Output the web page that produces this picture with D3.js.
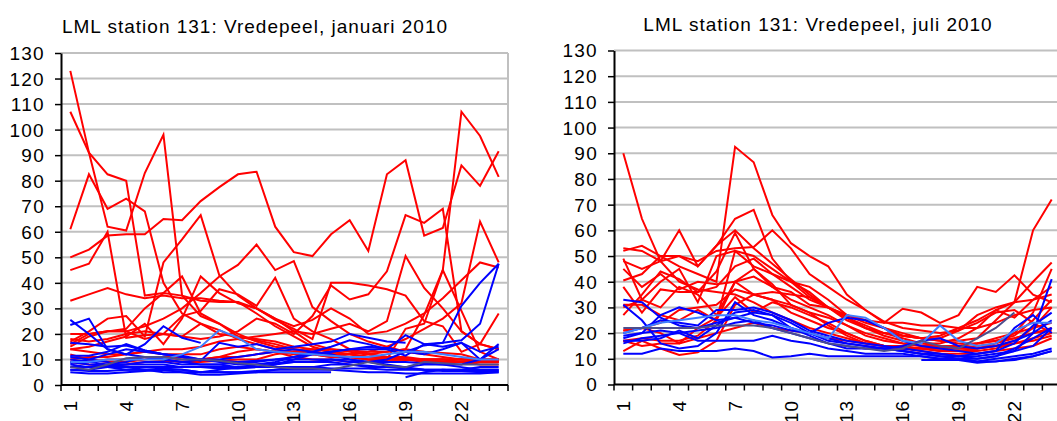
<!DOCTYPE html>
<html>
<head>
<meta charset="utf-8">
<script src="https://cdn.jsdelivr.net/npm/d3@7"></script>
<style>
  body { margin: 0; background: #fff; overflow: hidden; }
  svg text { font-family: "Liberation Sans", Arial, sans-serif; fill: #000; }
</style>
</head>
<body>
<svg id="chart"></svg>
<script>
// uren van de dag (categorieen)
const hours = d3.range(1, 25);
const hourLabels = [1, 4, 7, 10, 13, 16, 19, 22];
const yTicks = d3.range(0, 131, 10);

// januari 2010 - rode dagen
const janRed = [
  [123, 91, 62, 60.5, 83, 98, 35, 27, 24, 20, 17, 15, 14, 13, 12, 11, 10, 10, 10, 9, 9, 9, 8, 8],
  [107, 91, 82.5, 80, 35, 36, 35, 33, 32.5, 32.5, 28, 23, 19, 15, 13, 12, 11, 10, 10, 10, 10, 9, 9, 9],
  [61, 82.5, 69, 73, 68, 40, 28, 24, 20, 19, 17.5, 16, 14, 13, 12, 11, 10, 10, 10, 10, 9, 9, 9, 9],
  [50, 53, 58.5, 59, 59, 65, 64.5, 72, 77.5, 82.5, 83.5, 62, 52, 50.5, 59, 64.5, 52.5, 82.5, 88, 58.5, 61.5, 86, 78, 91.5],
  [45, 47.5, 60, 18.5, 19.5, 20, 19, 24, 21.5, 18, 16, 14, 13, 12, 11, 11, 10, 10, 10, 9.5, 9, 9, 9, 9],
  [33, 35.5, 38, 35.5, 34, 35, 34, 34, 33, 32.5, 30, 26, 23, 25.5, 30, 26, 20, 21, 24, 28, 34, 41, 48, 46],
  [15, 19, 21, 22, 30, 36, 42.5, 28, 24, 19, 18, 17, 15, 14, 13, 12, 11, 11, 10, 10, 10, 10, 10, 10],
  [16, 20, 21, 21, 23, 26, 30, 36, 42.5, 47, 55, 45, 48.5, 30.5, 25, 20, 17, 15, 13, 12, 11, 10, 10, 10],
  [17, 21, 26, 27, 19, 48, 57, 66.5, 43, 35, 30, 26, 21, 16, 14, 13, 12, 11, 10, 10, 10, 10, 9.5, 9.5],
  [20, 20, 21, 21, 18, 20, 27, 29, 37.5, 35.5, 31, 42, 26, 21, 18, 14, 12, 11, 11, 10, 10, 10, 10, 10],
  [14, 15, 17, 19, 24, 16, 26, 42.5, 36, 32, 30, 25.5, 22, 18, 40, 40, 39, 37.5, 35, 25, 23, 13, 16, 14],
  [9, 8, 7.5, 8, 9, 9.5, 9, 9, 9.5, 10, 10, 12, 13, 14, 14, 13.5, 13, 13, 14, 13, 12.5, 12, 10, 9.5],
  [12, 10, 9, 9, 10, 11, 11, 10, 11, 13, 14, 13, 11, 10, 10, 9, 9, 10, 22, 24, 45, 107, 97.5, 81.5],
  [18, 17, 18, 20, 21, 20, 19, 18, 19, 21, 26, 24, 20, 27, 39, 33.5, 35.5, 44.5, 66.5, 63.5, 69, 21, 16, 14],
  [14, 13, 12, 12, 13, 14, 14, 15, 17, 18, 19, 20, 21, 20, 22, 24, 21, 25, 50.5, 38, 30, 21, 16, 28],
  [10, 11, 11, 12, 13, 12, 12, 12, 14, 15, 14, 13, 12, 12, 11, 11, 12, 13, 14, 27.5, 45, 29, 13, 10],
  [9, 9, 10, 10, 11, 11, 10, 10, 11, 11, 12, 13, 13, 13, 12, 12, 13, 15, 18, 22, 26, 32, 64, 48]
];

// januari 2010 - blauwe dagen
const janBlue = [
  [25.5, 20, 14, 12, 11, 10, 9, 8, 8, 7, 7, 7, 7, 7, 6.5, 6.5, 6.5, 6, 6, 6, 6, 6, 6, 6],
  [23.5, 26, 14, 12, 16, 23, 18.5, 16.5, null, null, null, null, null, null, null, null, null, null, null, null, null, null, null, null],
  [16.5, 16, 15, 15.5, 13.5, 12, 11.5, 10, 9.5, 9, 9.5, 10, 11, 12, 13, 14, 15, 14.5, 13, 12, 14, 16.5, 13, 15],
  [11.5, 11.5, 13, 16, 13.5, 12, 11, 9.5, 16.5, 15, 16, 14, 15, 16, 17, 20, 18.5, 17, 16.5, null, null, null, null, null],
  [8, 7, 7, 6, 6, 6.5, 6, 5, 5, 5, 5, 5, 5, 5, 5, null, null, null, null, null, null, null, null, null],
  [null, null, null, null, null, null, null, null, null, null, null, null, null, null, null, null, null, null, 3, 5, 6, 5.5, 5, 5],
  [10, 9, 8, 9, 11, 10, 9, 10, 9, 8, 8, 9, 11, 13, 15, 17.5, 16, 14, 19.5, 16, 15, 16.5, 10, 16],
  [6, 6, 7, 7, 7, 7, 7, 7, 7, 7, 7, 8, 10, 12, 13, 14, 14, 14, 11.5, 16, 16.5, 31, 40, 47.5],
  [7, 7, 8, 8, 9, 9, 8, 8, 8, 9, 9, 10, 10, 10, 10, 9, 9, 10, 13, 15.5, 16.5, 17.5, 24, 47.5],
  [6, 5.5, 5.5, 6, 6, 6, 6, 5, 5, 5, 5.5, 6, 6, 6, 6, 5.5, 5, 5, 4.5, 4.5, 4.5, 4.5, 4.5, 5],
  [9, 8, 7.5, 8, 8, 8, 7, 7, 6.5, 6.5, 7, 8, 9, 9, 9, 8, 7, 7, 7, 8, 8, 7, 6, 6],
  [5, 4.5, 4.5, 5, 5.5, 6, 5, 5, 6, 7, 8, 8.5, 9, 9, 10, 10, 9, 8, 7, 6, 5.5, 5.5, 5.5, 5.5],
  [11, 10, 9, 7, 6, 5, 5, 4, 4, 4.5, 5, 6, 7, 7, 8, 8, 7.5, 7, 6.5, 6, 6, 6, 7, 7],
  [8.5, 10, 12, 14, 13, 12, 11, 10, 10, 11, 12, 13, 14, 13, 12, 10, 9, 9, 9, 8.5, 8, 8, 10, 14]
];
const janLightBlue = [9, 9, 10, 10, 10, 10, 12, 15, 21.5, 18.5, 14, 13, 12.5, 12, 11.5, 11, 11, 12, 13, 13, 12, 11, 10, 10];
const janSlate = [7, 6, 8, 10.5, 11, 11, 10, 10, 9.5, 8.5, 8, 7, 6.5, 6.5, 6, 7.5, 9, 7.5, 7, 9, 8.5, 8, 8, 8];

// juli 2010 - rode dagen
const julRed = [
  [90, 64.5, 48, 40, 37, 36, 35, 32, 28, 25, 22, 20, 18, 16, 15, 14, 14, 13, 13, 14, 16, 20, 28, 45],
  [52, 54, 50, 46, 43, 40, 92.5, 86.5, 66, 55, 50, 46, 35, 29, 24.5, 22, 21, 20, 21, 24, 28, 29, 24, 20],
  [48, 45, 48, 50, 46, 54, 64.5, 68, 49, 40, 36, 30, 26, 22, 20, 18, 16, 15, 14, 14, 15, 17, 22, 30],
  [53, 52, 48, 60, 46, 54, 60, 53, 47, 41, 35, 30, 27, 24, 22, 20, 18, 17, 16, 16, 17, 19, 25, 33],
  [40.5, 43, 50, 50, 48, 52, 53, 53.5, 60, 53, 43, 38, 33, 29, 24, 29.5, 28, 24, 27, 38, 36, 42.5, 35, 32],
  [38, 28, 37, 36, 36, 38, 46, 49, 43, 38, 33, 30, 26, 23, 20, 19, 18, 17, 17, 18, 25, 32, 60, 72],
  [30, 33, 40, 45, 32, 50, 52, 50, 45, 40, 34, 30, 26, 22, 19, 17, 16, 16, 18, 22, 29, 32, 40, 47.5],
  [27, 35, 44, 41, 36, 44, 59, 45, 38, 33, 30, 27, 23, 19, 17, 16, 15, 15, 15, 16, 18, 20, 22, 24],
  [49, 33, 30, 38, 35, 27, 40, 45, 39, 31, 28, 26, 23, 20, 18, 16, 15, 14, 14, 15, 16, 18, 20, 22],
  [21, 22, 20, 16, 22, 26, 34, 28, 32, 30, 27, 24, 20, 17, 15, 14, 14, 13, 13, 13, 14, 16, 18, 20],
  [13, 17, 14, 11.5, 12.5, 17, 31, 35, 33, 28, 25, 22, 20, 17, 15, 14, 13, 12, 12, 12, 13, 14, 15, 18],
  [31, 31, 27, 25, 29, 25, 52, 46, 43, 40, 38, 33, 27, 25, 24, 24, 23, 23, 22, 22, 24, 27, 29, 30],
  [17, 18, 17, 17, 19, 25, 40, 35, 33, 31, 28, 23, 19, 16, 15, 14, 14, 14, 14, 14, 15, 16, 17, 19],
  [21, 22, 24, 29, 30, 31, 37, 35, 36, 35, 34, 30, 25, 22, 20, 19, 18, 18, 21, 27, 30, 32, 33, 35],
  [45, 38, 43, 37, 40, 39, 40, 42, 38, 36, 31, 30, 27, 25, 22, 19, 18, 19, 22, 25, 29, 26, 33, 38],
  [17, 15, 16, 16, 18, 20, 22, 24, 22, 21, 20, 18, 17, 16, 15, 15, 14, 14, 15, 16, 17, 18, 20, 21]
];

// juli 2010 - blauwe dagen
const julBlue = [
  [33, 32, 26, 23, 22, 24, 26, 28, 27, 22, 19, 16, 15, 14, 14, 13, 12, 11, 11, 11, 12, 13, 15, 22],
  [31, 25, 16, 14, 15, 20, 32, 27, 25, 22, 20, 18, 16, 15, 14, 13, 12, 11, 10, 10, 11, 13, 20, 41],
  [20, 22, 25, 24, 23, 29, 29, 30, 28, 25, 21, 19, 17, 16, 15, 14, 13, 12, 11, 10, 11, 14, 18, 22],
  [18, 20, 27, 30, 28, 25, 26, 24, 23, 21, 20, 24, 26, 25, 22, 17, 15, 14, 13, 12, 13, 22, 27, 20],
  [12, 12, 14, 13, 13, 13, 14, 13, 10.5, 11, 12, 11, 11, 11, 11, 11, 11, 10, 10, 9, 9, 10, 11, 13],
  [16, 18, 19, 20, 17, 17, 17, 17, 19, 17, 16, 14, 13, 12, 12, 12, 11, 10, 10, 9, 10, 11, 12, 14],
  [19, 20, 21, 20, 21, 22, 24, 25, 22, 20, 18, 16, 14, 14, 14, 15, 17, 18, 15, 14, 15, 17, 20, 25],
  [17, 17, 18, 21, 18, 23, 28, 29, 27, 24, 20, 17, 16, 15, 14, 13, 12, 12, 11, 12, 13, 16, 23, 28],
  [null, null, null, null, null, null, null, null, null, null, null, null, null, null, null, null, 9.5, 9.5, 9.5, 8.5, 9, 9.5, 11, 13]
];
const julLightBlue = [20, 22, 24, 25, 26, 27, 27, 25, 24, 22, 20, 18, 27, 26, 22, 17, 16, 23, 17, 15, 16, 21, 24, 24];
const julSlate = [22, 22, 22, 22, 22, 23, 23, 23, 22, 20, 18, 16, 15, 14, 13, 14, 17, 15, 14, 18, 22, 28, null, null];

const svg = d3.select("#chart").attr("width", 1057).attr("height", 421);

function drawPanel(cfg) {
  const x = d3.scaleBand().domain(hours).range([cfg.left, cfg.right]);
  const y = d3.scaleLinear().domain([0, 130]).range([cfg.bottom, cfg.top]);
  const g = svg.append("g");

  // grid lines
  g.selectAll("line.grid").data(yTicks.slice(1)).join("line")
    .attr("x1", cfg.left).attr("x2", cfg.right)
    .attr("y1", d => y(d)).attr("y2", d => y(d))
    .attr("stroke", "#c0c0c0").attr("stroke-width", 2);
  g.append("line")
    .attr("x1", cfg.right).attr("x2", cfg.right)
    .attr("y1", y(130)).attr("y2", y(0))
    .attr("stroke", "#c0c0c0").attr("stroke-width", 2);

  // series
  const line = d3.line()
    .defined(d => d != null)
    .x((d, i) => x(hours[i]) + x.bandwidth() / 2)
    .y(d => y(d));
  const series = [];
  cfg.red.forEach(s => series.push({v: s, c: "#ff0000"}));
  cfg.blue.forEach(s => series.push({v: s, c: "#0000ff"}));
  series.push({v: cfg.lightBlue, c: "#3f7fff"});
  series.push({v: cfg.slate, c: "#4d4d8c"});
  g.selectAll("path.s").data(series).join("path")
    .attr("fill", "none")
    .attr("stroke", d => d.c)
    .attr("stroke-width", 2)
    .attr("d", d => line(d.v));

  // y axis
  const yAxis = g.append("g")
    .attr("transform", `translate(${cfg.left},0)`)
    .call(d3.axisLeft(y).tickValues(yTicks).tickSize(6).tickPadding(10).tickSizeOuter(0));
  yAxis.select(".domain").attr("stroke", "#000").attr("stroke-width", 2);
  yAxis.selectAll(".tick line").attr("stroke", "#000").attr("stroke-width", 1.5);
  yAxis.selectAll(".tick text")
    .style("font-size", "19px").style("letter-spacing", "1.3px").attr("dy", "0.34em");

  // x axis
  g.append("line")
    .attr("x1", cfg.left).attr("x2", cfg.right)
    .attr("y1", y(0)).attr("y2", y(0))
    .attr("stroke", "#000").attr("stroke-width", 2);
  const edges = hours.map(h => x(h)).concat([x(24) + x.bandwidth()]);
  g.selectAll("line.xt").data(edges).join("line")
    .attr("x1", d => d).attr("x2", d => d)
    .attr("y1", y(0)).attr("y2", y(0) + 6)
    .attr("stroke", "#000").attr("stroke-width", 1.5);
  g.selectAll("text.xl").data(hourLabels).join("text")
    .attr("transform", d => `translate(${x(d) + x.bandwidth() / 2},${cfg.labelY}) rotate(-90)`)
    .attr("text-anchor", "end")
    .attr("dy", "0.35em")
    .style("font-size", "19px").style("letter-spacing", "1px")
    .text(d => d);

  // title
  svg.append("text")
    .attr("x", cfg.titleX).attr("y", cfg.titleY)
    .attr("text-anchor", "middle")
    .style("font-size", "19px").style("letter-spacing", "1px")
    .text(cfg.title);
}

drawPanel({
  left: 61, right: 508, top: 53, bottom: 385, labelY: 400,
  title: "LML station 131: Vredepeel, januari 2010", titleX: 255, titleY: 33,
  red: janRed, blue: janBlue, lightBlue: janLightBlue, slate: janSlate
});
drawPanel({
  left: 614, right: 1061, top: 50.5, bottom: 384.5, labelY: 400,
  title: "LML station 131: Vredepeel, juli 2010", titleX: 818, titleY: 31,
  red: julRed, blue: julBlue, lightBlue: julLightBlue, slate: julSlate
});
</script>
</body>
</html>
